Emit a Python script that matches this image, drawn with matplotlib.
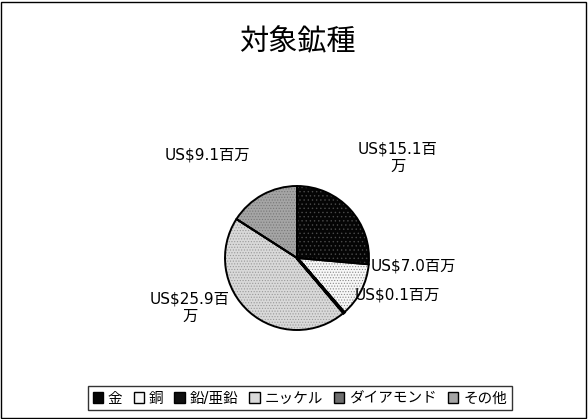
import matplotlib
matplotlib.use("Agg")
import matplotlib.pyplot as plt
from matplotlib.patches import Rectangle, Patch

plt.rcParams['font.family'] = ['DejaVu Sans', 'Noto Sans CJK JP']
plt.rcParams['hatch.linewidth'] = 0.5

title = "対象鉱種"
categories = ["金", "銅", "鉛/亜鉛", "ニッケル", "ダイアモンド", "その他"]
values = [15.1, 7.0, 0.1, 25.9, 0.0, 9.1]
value_labels = ["US$15.1百\n万", "US$7.0百万", "US$0.1百万", "US$25.9百\n万", "", "US$9.1百万"]

# label anchor positions (in pie-radius units)
label_pos = [(1.40, 1.39), (1.61, -0.11), (1.40, -0.51), (-1.49, -0.69), (0, 0), (-1.25, 1.43)]

colors = ["#050505", "#f7f7f7", "#101010", "#d9d9d9", "#6e6e6e", "#a5a5a5"]
hatch_colors = ["#4a4a4a", "#888888", "#888888", "#999999", "#444444", "#777777"]
hatches = ["....", "......", "||||", "......", "......", "......"]

W, H = 588, 419
fig = plt.figure(figsize=(W / 100, H / 100), dpi=100)
fig.patches.append(Rectangle((1 / W, 1 / H), (W - 3) / W, (H - 3) / H,
                             transform=fig.transFigure, fill=False,
                             edgecolor="black", linewidth=1))

fig.text(297 / W, 1 - 42 / H, title, ha="center", va="center", fontsize=21,
         family=['Noto Sans CJK JP'])

cx, cy, r = 297, 258, 72
ax = fig.add_axes([(cx - r) / W, (H - cy - r) / H, 2 * r / W, 2 * r / H])
# texture layer
w1, _ = ax.pie(values, colors=colors, startangle=90, counterclock=False,
               wedgeprops=dict(linewidth=0))
for w, h, hc in zip(w1, hatches, hatch_colors):
    w.set_hatch(h)
    w.set_edgecolor(hc)
    w.set_linewidth(0)
# outline layer
w2, _ = ax.pie(values, startangle=90, counterclock=False,
               wedgeprops=dict(fill=False, edgecolor="black", linewidth=1.4))
w2[2].set_linewidth(2.2)
for (x, y), lab in zip(label_pos, value_labels):
    if lab:
        ax.text(x, y, lab, ha="center", va="center", fontsize=11,
                linespacing=1.2, clip_on=False)
ax.set_xlim(-1, 1)
ax.set_ylim(-1, 1)
ax.set_aspect("equal")
ax.axis("off")

handles = []
for c, lab in zip(colors, categories):
    handles.append(Patch(facecolor=c, edgecolor="black", label=lab))
leg = fig.legend(handles=handles, loc="center", bbox_to_anchor=(300 / W, 1 - 398 / H),
                 ncol=6, fontsize=10.5, frameon=True, fancybox=False,
                 handlelength=0.7, handleheight=0.7, handletextpad=0.35,
                 columnspacing=0.75, borderpad=0.3)
leg.get_frame().set_edgecolor("black")
leg.get_frame().set_linewidth(1)

fig.savefig("out.png", dpi=100)
